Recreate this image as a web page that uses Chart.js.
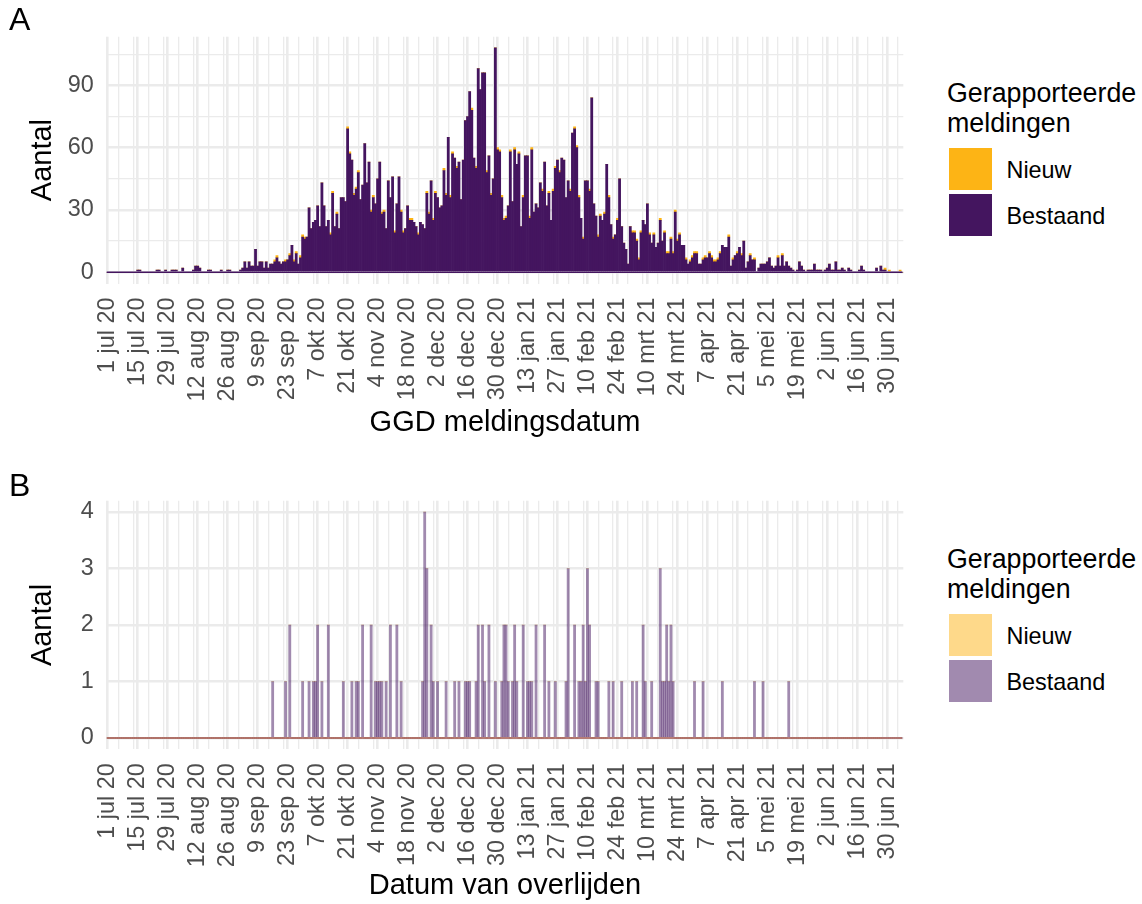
<!DOCTYPE html>
<html>
<head>
<meta charset="utf-8">
<script src="https://cdn.jsdelivr.net/npm/chart.js@4.4.1/dist/chart.umd.min.js"></script>
<style>
html,body{margin:0;padding:0;background:#fff;}
body{width:1142px;height:904px;position:relative;overflow:hidden;font-family:"Liberation Sans",Arial,Helvetica,sans-serif;}
canvas{position:absolute;left:0;}
#cA{top:0;}
#cB{top:466px;}
.tag{position:absolute;left:9px;font-size:32px;line-height:32px;color:#000;}
.lg-title{position:absolute;left:947px;font-size:26.8px;line-height:30px;color:#000;white-space:nowrap;}
.key{position:absolute;left:949.3px;width:42.4px;height:42.4px;}
.lab{position:absolute;left:1006.5px;height:42.4px;line-height:42.4px;font-size:23.4px;color:#000;white-space:nowrap;}
</style>
</head>
<body>
<canvas id="cA" width="930" height="466"></canvas>
<canvas id="cB" width="930" height="438"></canvas>
<div class="tag" style="top:2.9px">A</div>
<div class="tag" style="top:468.9px">B</div>
<div id="legA"></div>
<div id="legB"></div>
<script>
// ---------------- DATA ----------------
const startDate = '2020-07-01';   // first day (category 0)
const tickLabels = ['1 jul 20','15 jul 20','29 jul 20','12 aug 20','26 aug 20','9 sep 20','23 sep 20',
  '7 okt 20','21 okt 20','4 nov 20','18 nov 20','2 dec 20','16 dec 20','30 dec 20','13 jan 21',
  '27 jan 21','10 feb 21','24 feb 21','10 mrt 21','24 mrt 21','7 apr 21','21 apr 21','5 mei 21',
  '19 mei 21','2 jun 21','16 jun 21','30 jun 21'];
const seriesNames = ['Nieuw', 'Bestaand'];
const legendTitle = ['Gerapporteerde', 'meldingen'];
const xTitleA = 'GGD meldingsdatum';
const xTitleB = 'Datum van overlijden';
const yTitle = 'Aantal';
const yMajorA = [0, 30, 60, 90];
const yMinorA = [15, 45, 75, 105];
const yMajorB = [0, 1, 2, 3, 4];
const yMinorB = [0.5, 1.5, 2.5, 3.5];

// Panel A: GGD meldingsdatum (one value per day from 1 jul 2020)
const meldingenBestaand = [
0,0,0,0,0,0,0,0,0,0,
0,0,0,0,1,1,0,0,0,0,
0,0,0,1,1,0,0,1,0,0,
1,1,1,0,0,2,0,0,0,0,
1,3,3,2,0,0,0,1,1,0,
0,0,0,1,0,0,1,1,0,0,
0,0,1,2,5,2,5,3,3,11,
3,5,5,2,5,2,4,4,5,7,
5,4,5,5,6,8,13,5,9,4,
7,17,16,17,31,21,24,25,32,22,
43,32,22,25,18,38,22,28,21,36,
36,34,69,57,54,37,40,48,35,42,
62,43,53,29,36,33,45,53,28,29,
21,44,36,46,19,33,46,29,19,21,
32,25,25,24,22,18,24,23,21,38,
28,44,25,38,36,31,32,49,37,65,
36,57,55,50,53,35,54,73,75,87,
78,55,50,98,88,96,96,48,56,37,
45,108,59,58,36,25,26,32,58,34,
59,52,57,22,36,56,56,26,59,29,
33,31,43,39,53,32,38,25,39,50,
54,48,55,54,36,44,39,67,69,60,
36,26,16,44,44,39,84,33,27,17,
27,25,28,52,36,23,16,18,25,45,
22,14,11,4,22,19,19,15,6,19,
25,23,33,18,14,18,12,14,25,15,
19,9,9,16,9,29,15,18,13,13,
6,4,5,7,9,9,4,4,6,7,
7,9,7,5,5,6,9,13,12,12,
17,3,6,8,9,12,8,15,2,5,
8,6,6,0,2,4,4,4,5,7,
3,2,3,7,3,8,3,5,3,2,
1,0,1,5,3,1,0,1,1,1,
4,1,1,1,0,1,2,4,1,1,
5,1,1,2,1,0,2,1,0,0,
0,1,3,1,0,0,0,0,0,2,
0,3,1,1,0,0,0,0,0,0,
0,0];
const meldingenNieuw = [
0,0,0,0,0,0,0,0,0,0,
0,0,0,0,0,0,0,0,0,0,
0,0,0,0,0,0,0,0,0,0,
0,0,0,0,0,0,0,0,0,0,
0,0,0,0,0,0,0,0,0,0,
0,0,0,0,0,0,0,0,0,0,
0,0,0,0,0,0,0,0,0,0,
0,0,0,0,0,0,0,0,1,1,
0,0,0,1,0,1,0,1,1,0,
1,1,1,0,0,0,0,0,0,0,
0,0,0,0,1,1,0,1,0,0,
0,0,1,1,0,1,1,1,0,0,
0,0,0,1,1,0,0,0,1,1,
0,0,0,0,1,0,0,1,1,0,
0,1,1,0,0,1,0,0,0,1,
1,0,1,1,0,0,0,1,1,0,
1,1,0,1,0,0,0,0,0,0,
1,0,1,0,0,0,0,1,0,1,
0,0,1,1,1,1,1,0,1,0,
1,0,1,0,1,0,0,1,1,0,
0,0,0,1,0,0,1,0,1,1,
0,1,0,0,0,0,1,0,1,1,
1,0,1,0,0,1,0,0,0,1,
1,0,1,0,1,0,1,0,1,0,
0,0,0,0,0,1,1,1,1,1,
0,0,0,1,0,1,0,0,1,0,
1,1,1,1,1,1,1,1,0,0,
1,0,1,1,1,1,0,0,1,1,
0,1,1,1,1,1,1,0,0,0,
1,0,1,0,1,0,1,0,0,0,
1,0,1,0,0,0,0,0,0,0,
0,0,0,1,0,1,0,0,0,0,
0,0,0,0,0,0,0,0,0,0,
0,0,0,0,0,0,0,0,0,0,
0,0,0,0,0,0,0,0,0,0,
0,0,0,0,0,0,0,0,0,0,
0,0,0,1,0,1,0,0,0,0,
1,0];

// Panel B: datum van overlijden (one value per day from 1 jul 2020)
const overlijdenBestaand = [
0,0,0,0,0,0,0,0,0,0,
0,0,0,0,0,0,0,0,0,0,
0,0,0,0,0,0,0,0,0,0,
0,0,0,0,0,0,0,0,0,0,
0,0,0,0,0,0,0,0,0,0,
0,0,0,0,0,0,0,0,0,0,
0,0,0,0,0,0,0,0,0,0,
0,0,0,0,0,0,0,1,0,0,
0,0,0,1,0,2,0,0,0,0,
0,1,0,0,1,0,1,1,2,0,
1,0,0,2,0,0,0,0,0,0,
1,0,0,0,1,0,1,1,0,2,
0,0,0,2,0,1,1,1,1,0,
1,0,2,0,0,2,0,1,0,0,
0,0,0,0,0,0,0,1,4,3,
0,2,1,0,1,0,0,0,1,0,
0,0,1,0,1,0,0,1,1,1,
0,0,1,2,0,2,1,0,2,0,
0,1,0,0,1,2,2,1,0,1,
2,1,0,0,2,0,1,1,1,0,
2,0,0,0,2,0,1,0,0,1,
0,0,0,0,1,3,0,0,2,0,
1,1,2,1,3,2,0,0,1,1,
0,0,0,0,1,0,1,0,0,0,
1,0,0,0,0,1,0,1,0,0,
2,1,0,0,1,0,0,0,3,1,
1,2,1,2,1,0,0,0,0,0,
0,0,0,0,1,0,0,0,1,0,
0,0,0,0,0,0,0,1,0,0,
0,0,0,0,0,0,0,0,0,0,
0,0,1,0,0,0,1,0,0,0,
0,0,0,0,0,0,0,0,1,0,
0,0,0,0,0,0,0,0,0,0,
0,0,0,0,0,0,0,0,0,0,
0,0,0,0,0,0,0,0,0,0,
0,0,0,0,0,0,0,0,0,0,
0,0,0,0,0,0,0,0,0,0,
0,0];
const overlijdenNieuw = [
0,0,0,0,0,0,0,0,0,0, 0,0,0,0,0,0,0,0,0,0, 0,0,0,0,0,0,0,0,0,0, 0,0,0,0,0,0,0,0,0,0,
0,0,0,0,0,0,0,0,0,0, 0,0,0,0,0,0,0,0,0,0, 0,0,0,0,0,0,0,0,0,0, 0,0,0,0,0,0,0,0,0,0,
0,0,0,0,0,0,0,0,0,0, 0,0,0,0,0,0,0,0,0,0, 0,0,0,0,0,0,0,0,0,0, 0,0,0,0,0,0,0,0,0,0,
0,0,0,0,0,0,0,0,0,0, 0,0,0,0,0,0,0,0,0,0, 0,0,0,0,0,0,0,0,0,0, 0,0,0,0,0,0,0,0,0,0,
0,0,0,0,0,0,0,0,0,0, 0,0,0,0,0,0,0,0,0,0, 0,0,0,0,0,0,0,0,0,0, 0,0,0,0,0,0,0,0,0,0,
0,0,0,0,0,0,0,0,0,0, 0,0,0,0,0,0,0,0,0,0, 0,0,0,0,0,0,0,0,0,0, 0,0,0,0,0,0,0,0,0,0,
0,0,0,0,0,0,0,0,0,0, 0,0,0,0,0,0,0,0,0,0, 0,0,0,0,0,0,0,0,0,0, 0,0,0,0,0,0,0,0,0,0,
0,0,0,0,0,0,0,0,0,0, 0,0,0,0,0,0,0,0,0,0, 0,0,0,0,0,0,0,0,0,0, 0,0,0,0,0,0,0,0,0,0,
0,0,0,0,0,0,0,0,0,0, 0,0,0,0,0,0,0,0,0,0, 0,0,0,0,0,0,0,0,0,0, 0,0,0,0,0,0,0,0,0,0,
0,0];

// ---------------- STYLE ----------------
const FONT = '"Liberation Sans", Arial, Helvetica, sans-serif';
const GRID = '#EBEBEB';
const TICK_COLOR = '#4D4D4D';
const COL_A = { Nieuw: '#FDB415', Bestaand: '#44155F' };
const COL_B = { Nieuw: 'rgba(253,180,21,0.5)', Bestaand: 'rgba(68,21,95,0.5)' };
Chart.defaults.font.family = FONT;

// categories: one per day
function dayLabels(n) {
  const out = [];
  const d0 = new Date(startDate + 'T00:00:00Z');
  for (let i = 0; i < n; i++) {
    const d = new Date(d0.getTime() + i * 86400000);
    out.push(d.toISOString().slice(0, 10));
  }
  return out;
}
const days = dayLabels(meldingenBestaand.length);

const zeroLine = {
  id: 'zeroLine',
  afterDatasetsDraw(chart, args, opts) {
    const y = chart.scales.y, a = chart.chartArea, c = chart.ctx;
    const py = y.getPixelForValue(0);
    c.save();
    c.strokeStyle = opts.color;
    c.lineWidth = opts.width || 1.4;
    c.beginPath();
    c.moveTo(a.left, py);
    c.lineTo(a.right - 1, py);
    c.stroke();
    c.restore();
  }
};

function makePanel(id, p) {
  const yGrid = p.yMajor.concat(p.yMinor).sort((a, b) => a - b);
  return new Chart(document.getElementById(id), {
    type: 'bar',
    data: {
      labels: days,
      datasets: [
        { label: seriesNames[1], data: p.bestaand, backgroundColor: p.colors.Bestaand, stack: 's' },
        { label: seriesNames[0], data: p.nieuw, backgroundColor: p.colors.Nieuw, stack: 's' }
      ]
    },
    options: {
      responsive: false,
      animation: false,
      devicePixelRatio: 1,
      events: [],
      layout: { padding: { left: 0, right: 26.7, top: p.padTop, bottom: p.padBottom } },
      datasets: { bar: { barPercentage: 1, categoryPercentage: 1, borderWidth: 0 } },
      plugins: {
        legend: { display: false },
        tooltip: { enabled: false },
        zeroLine: { color: p.zeroColor, width: 1.4 }
      },
      scales: {
        x: {
          stacked: true,
          offset: true,
          grid: {
            offset: false,
            drawTicks: false,
            color: GRID,
            lineWidth: c => (c.index % 14 === 0 ? 2.6 : (c.index % 7 === 5 ? 1.3 : 0))
          },
          border: { display: false },
          ticks: {
            autoSkip: false,
            minRotation: 90,
            maxRotation: 90,
            padding: 14,
            color: TICK_COLOR,
            font: { size: 23.4 },
            callback: (v, i) => (i % 14 === 0 && tickLabels[i / 14] !== undefined ? tickLabels[i / 14] : '')
          },
          title: { display: true, text: p.xTitle, color: '#000', font: { size: 29 }, padding: { top: 0, bottom: 0 } },
          afterFit: s => { s.height = p.xAxisH; s.paddingLeft = 0; s.paddingRight = 0; }
        },
        y: {
          stacked: true,
          min: p.yMin,
          max: p.yMax,
          afterBuildTicks: s => { s.ticks = yGrid.map(v => ({ value: v })); },
          grid: {
            drawTicks: false,
            color: GRID,
            lineWidth: c => (c.tick && p.yMajor.includes(c.tick.value) ? 2.6 : 1.3)
          },
          border: { display: false },
          ticks: {
            padding: 13,
            color: TICK_COLOR,
            font: { size: 23.4 },
            callback: v => (p.yMajor.includes(v) ? String(v) : '')
          },
          title: { display: true, text: yTitle, color: '#000', font: { size: 29 }, padding: { top: 25.1, bottom: 0 } },
          afterFit: s => { s.width = 106.7; s.paddingTop = 0; s.paddingBottom = 0; }
        }
      }
    },
    plugins: [zeroLine]
  });
}

makePanel('cA', {
  bestaand: meldingenBestaand, nieuw: meldingenNieuw, colors: COL_A,
  yMin: -5.4, yMax: 113.4, yMajor: yMajorA, yMinor: yMinorA,
  xTitle: xTitleA, padTop: 36.7, padBottom: 26.1, xAxisH: 156.4, zeroColor: '#44155F'
});
makePanel('cB', {
  bestaand: overlijdenBestaand, nieuw: overlijdenNieuw, colors: COL_B,
  yMin: -0.2, yMax: 4.2, yMajor: yMajorB, yMinor: yMinorB,
  xTitle: xTitleB, padTop: 34.7, padBottom: 0.6, xAxisH: 154.1, zeroColor: '#A5584F'
});

function buildLegend(id, offset, colors) {
  const root = document.getElementById(id);
  const t = document.createElement('div');
  t.className = 'lg-title';
  t.style.top = (78.3 + offset) + 'px';
  legendTitle.forEach((line, i) => {
    if (i) t.appendChild(document.createElement('br'));
    t.appendChild(document.createTextNode(line));
  });
  root.appendChild(t);
  const keyTops = [148, 194];
  seriesNames.forEach((name, i) => {
    const k = document.createElement('div');
    k.className = 'key';
    k.style.top = (keyTops[i] + offset) + 'px';
    k.style.background = colors[name];
    root.appendChild(k);
    const l = document.createElement('div');
    l.className = 'lab';
    l.style.top = (keyTops[i] + offset + 1) + 'px';
    l.textContent = name;
    root.appendChild(l);
  });
}
buildLegend('legA', 0, COL_A);
buildLegend('legB', 466, COL_B);
</script>
</body>
</html>
